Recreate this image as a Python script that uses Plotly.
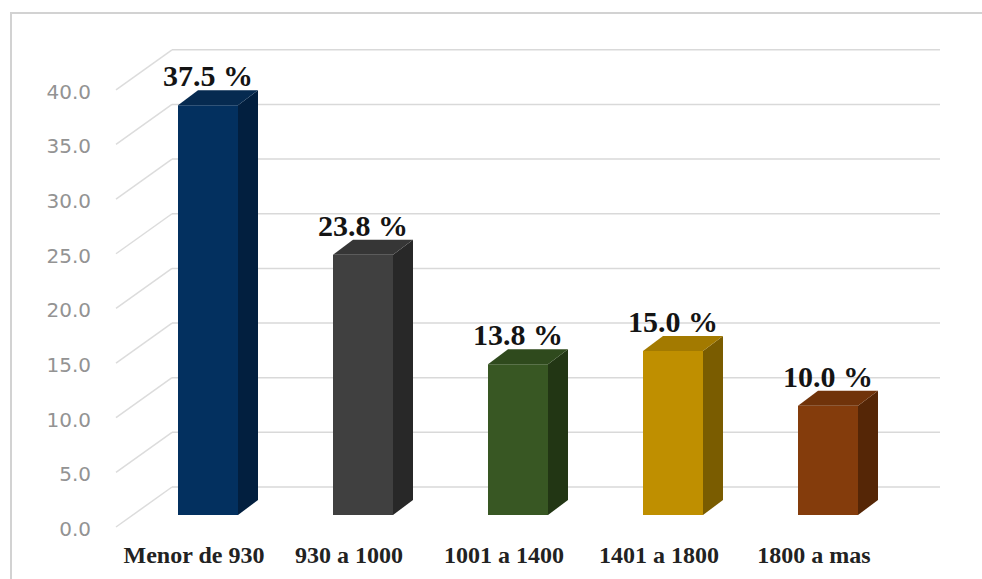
import plotly.graph_objects as go

# Distribution by income bracket (percent of respondents)
categories = ["Menor de 930", "930 a 1000", "1001 a 1400", "1401 a 1800", "1800 a mas"]
percentages = [37.5, 23.8, 13.8, 15.0, 10.0]
y_ticks = [0, 5, 10, 15, 20, 25, 30, 35, 40]

# Face colours for the pseudo-3D columns: front, top, right side
front_colors = ["#03305f", "#404040", "#385723", "#bf8f00", "#843c0c"]
top_colors = ["#062a50", "#363636", "#2f4a1d", "#a37a00", "#70330a"]
side_colors = ["#021f3f", "#282828", "#223614", "#7a5c00", "#552606"]

# Canvas and projection geometry (pixels)
W, H = 982, 579
M_L, M_R, M_T, M_B = 100, 22, 30, 41
plot_w = W - M_L - M_R
plot_h = H - M_T - M_B
cat_step_px = 155.0      # distance between column centres
first_center_px = 208.0  # x of first column centre
zero_px = 515.0          # y of value 0 on the front plane
unit_px = 10.93          # pixels per percentage point

x_lo = -(first_center_px - M_L) / cat_step_px
x_hi = x_lo + plot_w / cat_step_px
y_lo = -(M_T + plot_h - zero_px) / unit_px
y_hi = y_lo + plot_h / unit_px

bar_w = 60 / cat_step_px      # front-face width
depth_dx = 20 / cat_step_px   # column depth, horizontal component
depth_dy = 15 / unit_px       # column depth, vertical component
wall_dy = 28 / unit_px        # back wall offset
wall_x0 = (172 - first_center_px) / cat_step_px
wall_x1 = (940 - first_center_px) / cat_step_px
side_x0 = (116 - first_center_px) / cat_step_px
side_drop = 12 / unit_px

xs = list(range(len(categories)))
fig = go.Figure()

# Back wall gridlines plus the receding side-wall lines
grid_shapes = []
for v in y_ticks:
    grid_shapes.append(dict(type="line", xref="x", yref="y", layer="below",
                            x0=wall_x0, x1=wall_x1, y0=v + wall_dy, y1=v + wall_dy,
                            line=dict(color="#d9d9d9", width=1.5)))
    grid_shapes.append(dict(type="line", xref="x", yref="y", layer="below",
                            x0=side_x0, x1=wall_x0, y0=v - side_drop, y1=v + wall_dy,
                            line=dict(color="#dcdcdc", width=1.5)))

# Front faces
fig.add_trace(go.Bar(x=xs, y=percentages, width=bar_w,
                     marker=dict(color=front_colors, line=dict(width=0)),
                     hoverinfo="skip", showlegend=False))

# Right side and top faces
for i, v in enumerate(percentages):
    xr = i + bar_w / 2
    xl = i - bar_w / 2
    fig.add_trace(go.Scatter(
        x=[xr, xr + depth_dx, xr + depth_dx, xr, xr],
        y=[0, depth_dy, v + depth_dy, v, 0],
        fill="toself", fillcolor=side_colors[i], mode="lines",
        line=dict(width=0, color=side_colors[i]), hoverinfo="skip", showlegend=False))
    fig.add_trace(go.Scatter(
        x=[xl, xl + depth_dx, xr + depth_dx, xr, xl],
        y=[v, v + depth_dy, v + depth_dy, v, v],
        fill="toself", fillcolor=top_colors[i], mode="lines",
        line=dict(width=0, color=top_colors[i]), hoverinfo="skip", showlegend=False))

# Value labels above each column
annotations = []
for i, v in enumerate(percentages):
    annotations.append(dict(x=i, y=v + depth_dy, xref="x", yref="y",
                            text=f"{v:.1f} %", showarrow=False,
                            xanchor="center", yanchor="bottom", yshift=-4,
                            font=dict(family="Liberation Serif", size=30,
                                      color="#141414", weight="bold")))

# Outer chart frame
px_to_px = lambda px: (px - M_L) / plot_w
py_to_py = lambda py: (M_T + plot_h - py) / plot_h
frame = dict(type="rect", xref="paper", yref="paper", layer="below",
             x0=px_to_px(11), x1=px_to_px(1010), y0=py_to_py(610), y1=py_to_py(13),
             line=dict(color="#d2d2d2", width=2), fillcolor="rgba(0,0,0,0)")

fig.update_layout(
    width=W, height=H,
    margin=dict(l=M_L, r=M_R, t=M_T, b=M_B, autoexpand=False),
    paper_bgcolor="white", plot_bgcolor="white",
    shapes=grid_shapes + [frame],
    annotations=annotations,
    showlegend=False,
    xaxis=dict(range=[x_lo, x_hi], tickmode="array", tickvals=xs, ticktext=categories,
               showgrid=False, zeroline=False, showline=False, ticks="",
               ticklabelshift=-14, ticklabelstandoff=0,
               tickfont=dict(family="Liberation Serif", size=24, color="#222222",
                             weight="bold"),
               fixedrange=True),
    yaxis=dict(range=[y_lo, y_hi], tickmode="array", tickvals=y_ticks,
               ticktext=[f"{t:.1f}" for t in y_ticks],
               showgrid=False, zeroline=False, showline=False, ticks="",
               ticklabelshift=14, ticklabelstandoff=8,
               tickfont=dict(family="DejaVu Sans", size=20, color="#939393"),
               fixedrange=True),
)

fig.write_html("out.html")
